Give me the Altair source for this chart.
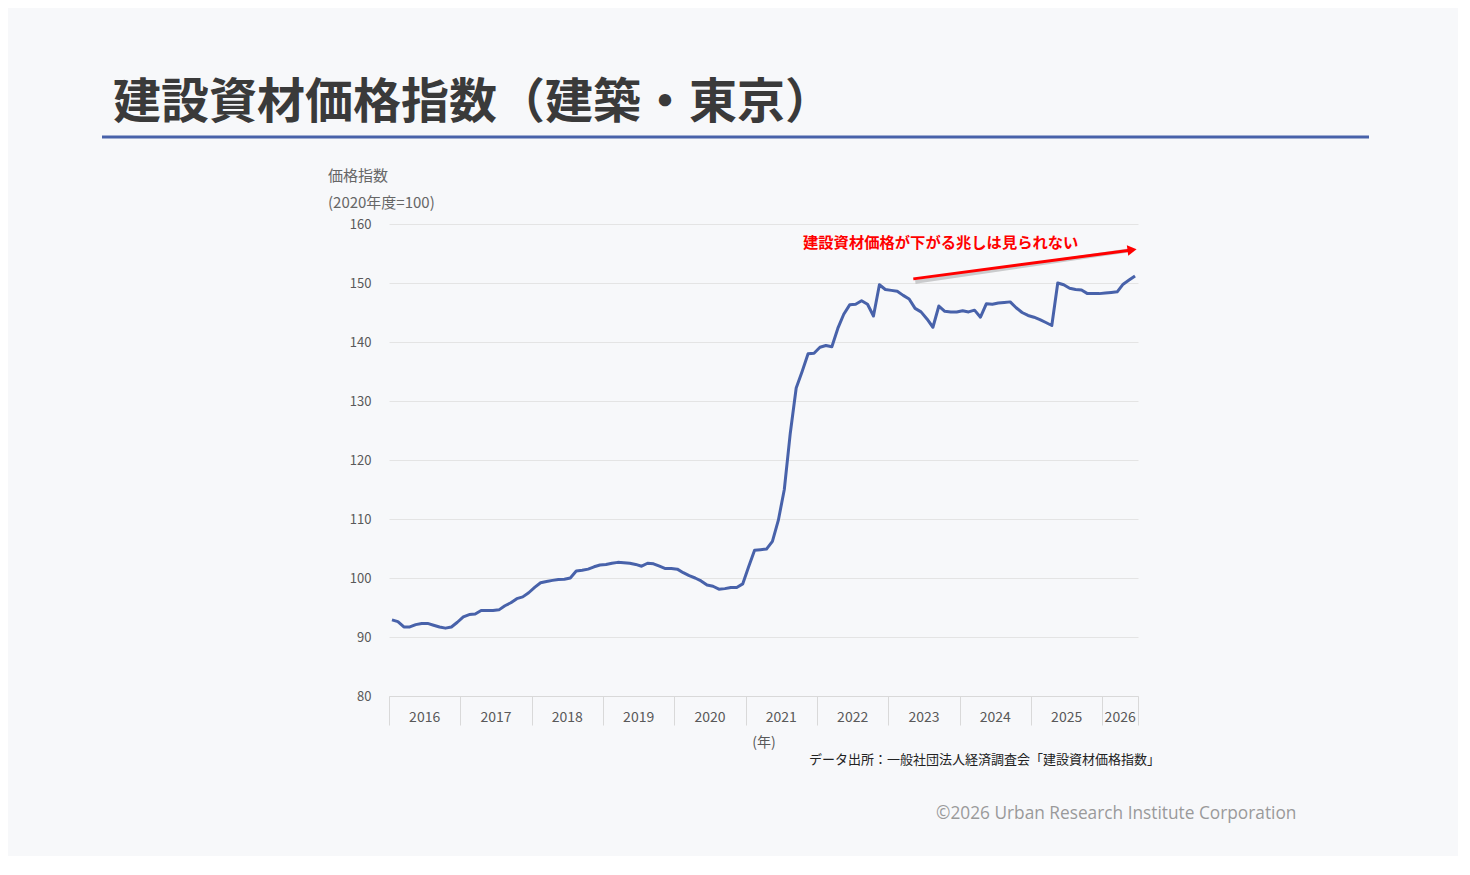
import altair as alt
import pandas as pd

# ---- data (monthly index, Jan 2016 .. Jun 2026) ----
values = [
    92.9, 92.6, 91.7, 91.7, 92.1, 92.3, 92.3, 92.0, 91.7, 91.5, 91.7, 92.5,      # 2016
    93.4, 93.8, 93.9, 94.5, 94.5, 94.5, 94.6, 95.3, 95.8, 96.5, 96.8, 97.5,      # 2017
    98.4, 99.2, 99.4, 99.6, 99.75, 99.8, 100.0, 101.2, 101.3, 101.5, 101.9, 102.2,  # 2018
    102.3, 102.5, 102.65, 102.6, 102.5, 102.3, 102.0, 102.5, 102.4, 102.0, 101.6, 101.6,  # 2019
    101.5, 100.9, 100.4, 100.0, 99.5, 98.8, 98.6, 98.1, 98.2, 98.4, 98.4, 99.0,  # 2020
    101.9, 104.7, 104.8, 104.9, 106.2, 109.8, 115.0, 124.5, 132.2, 135.0, 138.0, 138.1,  # 2021
    139.1, 139.4, 139.2, 142.3, 144.7, 146.3, 146.4, 147.0, 146.4, 144.4, 149.7, 148.9,  # 2022
    148.75, 148.6, 147.9, 147.3, 145.7, 145.1, 143.9, 142.5, 146.1, 145.2, 145.1, 145.1,  # 2023
    145.3, 145.1, 145.4, 144.2, 146.5, 146.4, 146.6, 146.7, 146.8, 145.8, 145.0, 144.5,  # 2024
    144.2, 143.8, 143.3, 142.8, 150.0, 149.7, 149.1, 148.9, 148.8, 148.2, 148.2, 148.2,  # 2025
    148.3, 148.4, 148.5, 149.8, 150.5, 151.2,                                    # 2026
]
years = ["2016", "2017", "2018", "2019", "2020", "2021", "2022", "2023", "2024", "2025", "2026"]
months_in_year = [12, 12, 12, 12, 12, 12, 12, 12, 12, 12, 6]
y_ticks = [80, 90, 100, 110, 120, 130, 140, 150, 160]

title_text = "建設資材価格指数（建築・東京）"
ytitle1 = "価格指数"
ytitle2 = "(2020年度=100)"
xtitle = "(年)"
source_text = "データ出所：一般社団法人経済調査会「建設資材価格指数」"
note_text = "建設資材価格が下がる兆しは見られない"
copy_text = "©2026 Urban Research Institute Corporation"

# annotation arrow (month position, index value)
arrow_x = [88.2, 124.66]
arrow_y = [150.7, 155.56]
arrow_head = (125.0, 155.6)
note_pos = (69.65, 156.8)

# ---- derived tables ----
n = len(values)
df = pd.DataFrame({"m": [k + 0.5 for k in range(n)], "v": values})
starts = []
acc = 0
for c in months_in_year:
    starts.append(acc)
    acc += c
ends = [s + c for s, c in zip(starts, months_in_year)]
ydf = pd.DataFrame({"year": years, "mid": [(s + e) / 2 for s, e in zip(starts, ends)]})
tick_vals = starts + [ends[-1]]

FONT = "Noto Sans CJK JP"
BLUE = "#4862AA"
XMAX = ends[-1]

xscale = alt.Scale(domain=[0, XMAX], nice=False, zero=False)
yscale = alt.Scale(domain=[80, 160], nice=False, zero=False)

line = alt.Chart(df).mark_line(color=BLUE, strokeWidth=3, strokeJoin="round").encode(
    x=alt.X("m:Q", scale=xscale,
            axis=alt.Axis(values=tick_vals, labels=False, title=None, grid=False,
                          tickSize=29, tickColor="#d9d9d9", domainColor="#d9d9d9",
                          tickWidth=1, domainWidth=1)),
    y=alt.Y("v:Q", scale=yscale,
            axis=alt.Axis(values=y_ticks, title=None, domain=False, ticks=False,
                          labelPadding=18, labelFontSize=13, labelColor="#595959",
                          labelFont=FONT, gridColor="#e4e4e4", gridWidth=1)),
)

year_labels = alt.Chart(ydf).mark_text(font=FONT, fontSize=14, color="#595959",
                                       baseline="middle", align="center").encode(
    x=alt.X("mid:Q", scale=xscale), y=alt.value(494), text="year:N")

def txt(s, x, y, size, color, align="left", weight="normal"):
    return alt.Chart(pd.DataFrame({"t": [s]})).mark_text(
        font=FONT, fontSize=size, color=color, align=align, baseline="middle",
        fontWeight=weight).encode(x=alt.value(x), y=alt.value(y), text="t:N")

title = txt(title_text, -276, -120, 48, "#3a3a3a", weight="bold")
title_rule = alt.Chart(pd.DataFrame({"a": [0]})).mark_rule(color=BLUE, strokeWidth=3).encode(
    x=alt.value(-287), x2=alt.value(980), y=alt.value(-87))
yt1 = txt(ytitle1, -61, -48, 15, "#666666")
yt2 = txt(ytitle2, -61, -21, 15, "#666666")
xt = txt(xtitle, 375, 519, 14, "#595959", align="center")
src = txt(source_text, 771, 536, 13, "#222222", align="right")
copy = alt.Chart(pd.DataFrame({"t": [copy_text]})).mark_text(
    font="Open Sans", fontSize=17.3, color="#9a9a9a", align="left", baseline="middle").encode(
    x=alt.value(547), y=alt.value(590), text="t:N")

adf = pd.DataFrame({"x": [arrow_x[0]], "x2": [arrow_x[1]], "y": [arrow_y[0]], "y2": [arrow_y[1]]})
arrow_shadow = alt.Chart(adf).mark_rule(color="#000000", opacity=0.18, strokeWidth=4,
                                        xOffset=2, yOffset=3).encode(
    x=alt.X("x:Q", scale=xscale), x2="x2:Q", y=alt.Y("y:Q", scale=yscale), y2="y2:Q")
arrow = alt.Chart(adf).mark_rule(color="#ff0000", strokeWidth=3).encode(
    x=alt.X("x:Q", scale=xscale), x2="x2:Q", y=alt.Y("y:Q", scale=yscale), y2="y2:Q")
hdf = pd.DataFrame({"x": [arrow_head[0]], "y": [arrow_head[1]]})
head = alt.Chart(hdf).mark_point(shape="triangle-right", filled=True, color="#ff0000",
                                 opacity=1, size=110, angle=352.4, strokeWidth=0).encode(
    x=alt.X("x:Q", scale=xscale), y=alt.Y("y:Q", scale=yscale))
ndf = pd.DataFrame({"x": [note_pos[0]], "y": [note_pos[1]], "t": [note_text]})
note = alt.Chart(ndf).mark_text(font=FONT, fontSize=15.3, fontWeight="bold", color="#ff0000",
                                align="left", baseline="middle").encode(
    x=alt.X("x:Q", scale=xscale), y=alt.Y("y:Q", scale=yscale), text="t:N")

chart = alt.layer(
    line, year_labels, title, title_rule, yt1, yt2, xt, src, copy,
    arrow_shadow, arrow, head, note
).properties(
    width=749, height=472,
    padding={"left": 381, "top": 216, "right": 320, "bottom": 160},
    autosize=alt.AutoSizeParams(type="none"),
    background="#F7F8FA",
).configure_view(stroke=None)

chart.save("out.html", embed_options={"renderer": "svg", "actions": False})
